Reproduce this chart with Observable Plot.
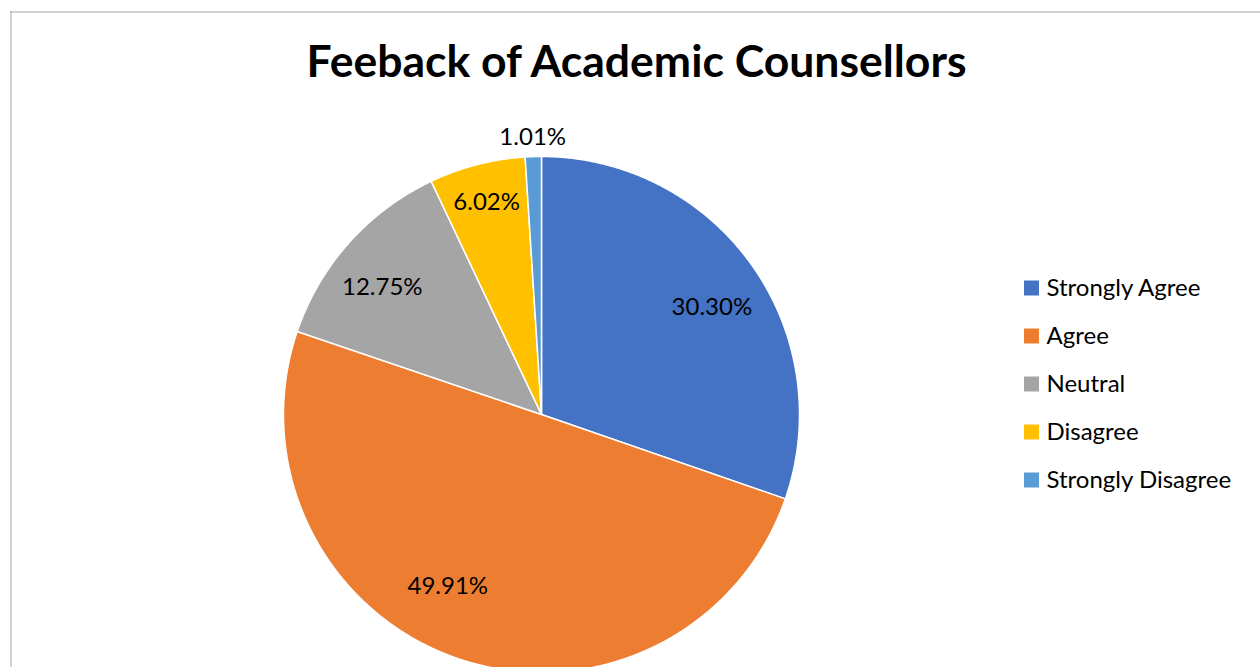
<!DOCTYPE html>
<html>
<head>
<meta charset="utf-8">
<script src="https://cdn.jsdelivr.net/npm/d3@7"></script>
<script src="https://cdn.jsdelivr.net/npm/@observablehq/plot@0.6"></script>
<style>
  html, body { margin: 0; padding: 0; background: #fff; }
  #chart svg { display: block; }
</style>
</head>
<body>
<div id="chart"></div>
<script>
const categories = ["Strongly Agree", "Agree", "Neutral", "Disagree", "Strongly Disagree"];
const values = [30.30, 49.91, 12.75, 6.02, 1.01];
const valueLabels = ["30.30%", "49.91%", "12.75%", "6.02%", "1.01%"];
const colors = ["#4472C4", "#ED7D31", "#A5A5A5", "#FFC000", "#5B9BD5"];
const title = "Feeback of Academic Counsellors";

// layout (pixels)
const W = 1260, H = 667;
const cx = 541, cy = 414, R = 258;
const legendX = 1024, legendY0 = 288, legendStep = 48, sw = 15;
// label placement (best-fit style): radius factor and angular nudge in degrees
const labelRadius = [0.78, 0.76, 0.79, 0.85, 1.075];
const labelNudge = [3.3, 9.6, -3.1, 0, 0];

const arcs = d3.pie().sort(null).value(d => d)(values);

const slicePts = [];
arcs.forEach((a, i) => {
  const cat = categories[i];
  slicePts.push({cat, x: cx, y: cy});
  const n = Math.max(4, Math.ceil((a.endAngle - a.startAngle) / 0.004));
  for (let k = 0; k <= n; k++) {
    const t = a.startAngle + (a.endAngle - a.startAngle) * k / n;
    slicePts.push({cat, x: cx + R * Math.sin(t), y: cy - R * Math.cos(t)});
  }
  slicePts.push({cat, x: cx, y: cy});
});

const labelPts = arcs.map((a, i) => {
  const mid = (a.startAngle + a.endAngle) / 2 + labelNudge[i] * Math.PI / 180;
  const k = labelRadius[i];
  return {text: valueLabels[i], x: cx + k * R * Math.sin(mid), y: cy - k * R * Math.cos(mid)};
});

const legend = categories.map((c, i) => ({cat: c, y: legendY0 + i * legendStep}));

const chart = Plot.plot({
  width: W,
  height: H,
  margin: 0,
  style: {background: "#fff", fontFamily: "Lato, 'Open Sans', sans-serif"},
  x: {domain: [0, W], range: [0, W], axis: null},
  y: {domain: [0, H], range: [0, H], axis: null},
  color: {domain: categories, range: colors},
  marks: [
    Plot.ruleX([10.5], {y1: 11, y2: H, stroke: "#a6a6a6", strokeWidth: 1}),
    Plot.ruleY([11.5], {x1: 10, x2: W, stroke: "#a6a6a6", strokeWidth: 1}),
    Plot.line(slicePts, {x: "x", y: "y", z: "cat", fill: "cat", stroke: "#fff", strokeWidth: 1.5, strokeLinejoin: "round", curve: "linear"}),
    Plot.text(labelPts, {x: "x", y: "y", text: "text", fontSize: 24, fill: "#000", textAnchor: "middle", lineAnchor: "middle"}),
    Plot.text([title], {x: () => 636, y: () => 62, text: d => d, fontSize: 44.5, fontWeight: "bold", fill: "#000", textAnchor: "middle", lineAnchor: "middle"}),
    Plot.rect(legend, {x1: () => legendX, x2: () => legendX + sw, y1: d => d.y - sw / 2, y2: d => d.y + sw / 2, fill: "cat"}),
    Plot.text(legend, {x: () => legendX + sw + 7, y: "y", text: "cat", fontSize: 24, fill: "#000", textAnchor: "start", lineAnchor: "middle"})
  ]
});
document.getElementById("chart").appendChild(chart);
</script>
</body>
</html>
